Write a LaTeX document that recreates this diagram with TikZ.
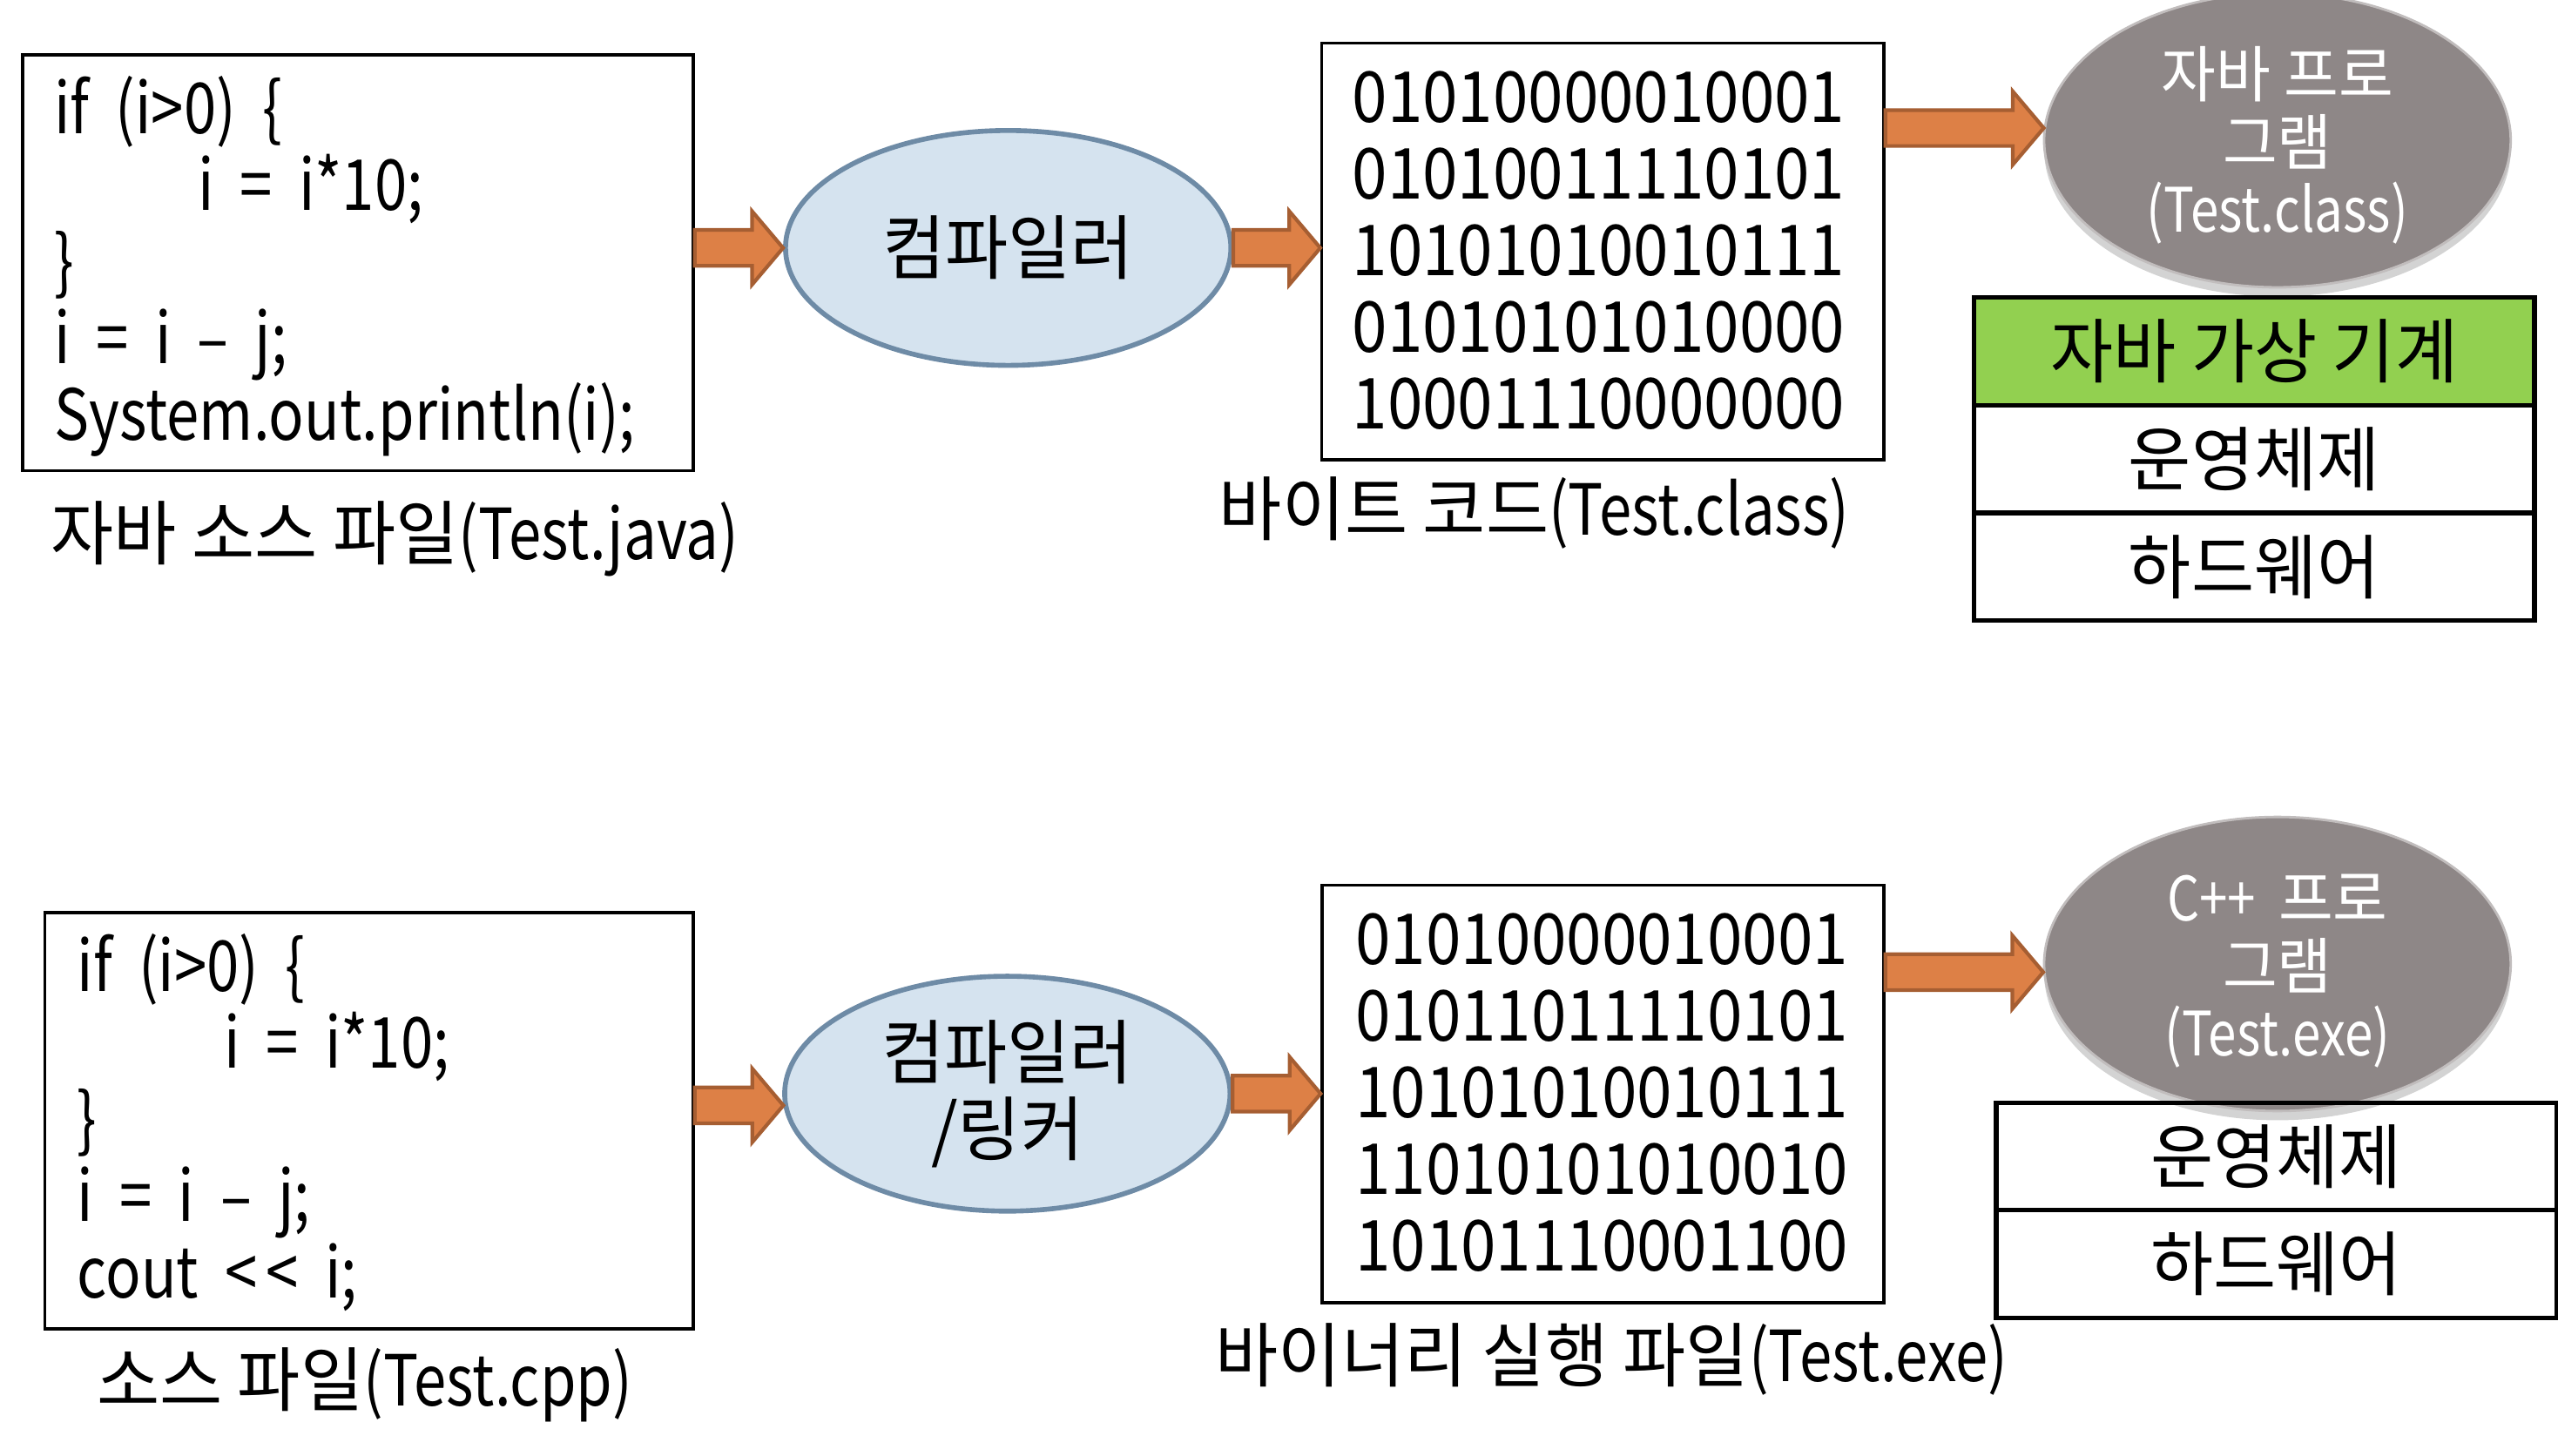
\documentclass[tikz,border=0pt]{standalone}
\usepackage{fontspec}
\setmainfont{Noto Sans CJK KR}[FakeStretch=0.83, WordSpace=2.0]
\newfontfamily\krfont{Noto Sans CJK KR}[FakeStretch=0.97]
\newfontfamily\binfont{Noto Sans CJK KR}[FakeStretch=0.90]
\usetikzlibrary{shapes.geometric,calc,shadows}

\newlength\px
\setlength\px{0.01873cm}

\definecolor{arroworange}{RGB}{221,128,70}
\definecolor{arrowedge}{RGB}{166,94,50}
\definecolor{compfill}{RGB}{213,227,239}
\definecolor{compedge}{RGB}{110,139,166}
\definecolor{progray}{RGB}{142,135,135}
\definecolor{jvmgreen}{RGB}{146,208,80}

\tikzset{
  codebox/.style={draw, line width=1pt, inner sep=0pt},
  codeline/.style={anchor=base west, inner sep=0pt, font=\fontsize{23}{25}\selectfont},
  binline/.style={anchor=base west, inner sep=0pt, font=\fontsize{23}{25}\binfont},
  caption/.style={anchor=base, inner sep=0pt, font=\fontsize{23}{25}\selectfont},
  compiler/.style={ellipse, draw=compedge, fill=compfill, line width=1.6pt,
    minimum width=273\px, minimum height=144\px, inner sep=0pt, align=center,
    font=\fontsize{23}{25}\krfont},
  program/.style={ellipse, draw=progray!55!white, fill=progray, line width=0.8pt,
    minimum width=286\px, minimum height=160\px, inner sep=0pt, align=center,
    text=white, font=\fontsize{20}{22}\selectfont,
    drop shadow={shadow xshift=0pt, shadow yshift=-3pt, opacity=0.35}},
  stackrow/.style={draw, line width=1.5pt, minimum width=343.5\px,
    minimum height=66\px, inner sep=0pt, font=\fontsize{23}{25}\krfont},
  fatarrow/.style={draw=arrowedge, fill=arroworange, line width=1.2pt, line join=miter}
}

% block arrow from #1 to the tip #2
\newcommand{\fatarrow}[2]{%
  \draw[fatarrow] ($(#1)+(0,-11)$) -- ($(#2)+(-19,-11)$) -- ($(#2)+(-19,-22.5)$)
    -- (#2) -- ($(#2)+(-19,22.5)$) -- ($(#2)+(-19,11)$) -- ($(#1)+(0,11)$) -- cycle;}

\begin{document}
\begin{tikzpicture}[x=1\px, y=-1\px]
  \useasboundingbox (0,0) rectangle (1568,892.6);

  % Java
  \node[codebox, minimum width=411\px, minimum height=255\px] (java) at (219.5,161) {};
  \foreach \x/\y/\t [count=\n] in {33/82/{if (i>0) \{}, 121/129/{i = i*10;}, 33/176/{\}},
      33/223/{i = i – j;}, 33/270/{System.out.println(i);}}
    \node[codeline] (jline\n) at (\x,\y) {\t};
  \node[caption] (javacap) at (242,343) {{\krfont 자바 소스 파일}(Test.java)};

  \node[compiler] (comp) at (618,152) {컴파일러};

  \node[codebox, minimum width=344.5\px, minimum height=255.6\px] (byte) at (982.5,154.2) {};
  \foreach \y/\t [count=\n] in {75/01010000010001, 122/01010011110101, 169/10101010010111,
      216/01010101010000, 263/10001110000000}
    \node[binline] (bline\n) at (828.6,\y) {\t};
  \node[caption] (bytecap) at (940.5,328) {{\krfont 바이트 코드}(Test.class)};

  \node[program] (prog) at (1396,86) {\rule{0pt}{20pt}{\krfont 자바 프로}\\{\krfont 그램}\\(Test.class)};

  \node[stackrow, fill=jvmgreen] (jvm) at (1381.8,215.5) {자바 가상 기계};
  \node[stackrow] (os) at (1381.8,281.5) {운영체제};
  \node[stackrow] (hw) at (1381.8,347.5) {하드웨어};

  \coordinate (a1) at (java.east |- comp.west);
  \coordinate (a2) at (comp.east -| byte.west);
  \coordinate (a3) at (byte.east |- prog.177);
  \fatarrow{a1}{comp.west}
  \fatarrow{comp.east}{a2}
  \fatarrow{a3}{prog.177}

  % C++
  \node[codebox, minimum width=397.4\px, minimum height=255.2\px] (cpp) at (226.3,687.2) {};
  \foreach \x/\y/\t [count=\n] in {47/608/{if (i>0) \{}, 137/655/{i = i*10;}, 47/702/{\}},
      47/749/{i = i – j;}, 47/796/{cout <\kern3pt< i;}}
    \node[codeline] (cline\n) at (\x,\y) {\t};
  \node[caption] (cppcap) at (223.5,862) {{\krfont 소스 파일}(Test.cpp)};

  \node[compiler] (link) at (617.5,670.5) {컴파일러\\/링커};

  \node[codebox, minimum width=344.3\px, minimum height=255.9\px] (bin) at (982.6,670.7) {};
  \foreach \y/\t [count=\n] in {591.4/01010000010001, 638.4/01011011110101, 685.4/10101010010111,
      732.4/11010101010010, 779.4/10101110001100}
    \node[binline] (xline\n) at (830.5,\y) {\t};
  \node[caption] (bincap) at (988,847) {{\krfont 바이너리 실행 파일}(Test.exe)};

  \node[program] (cprog) at (1396,591) {\rule{0pt}{20pt}C++ {\krfont 프로}\\{\krfont 그램}\\(Test.exe)};

  \node[stackrow] (os2) at (1395.4,709) {운영체제};
  \node[stackrow] (hw2) at (1395.4,775) {하드웨어};

  \coordinate (b1) at (cpp.east |- link.183);
  \coordinate (b2) at (link.east -| bin.west);
  \coordinate (b3) at (bin.east |- cprog.182);
  \fatarrow{b1}{link.183}
  \fatarrow{link.east}{b2}
  \fatarrow{b3}{cprog.182}
\end{tikzpicture}
\end{document}
